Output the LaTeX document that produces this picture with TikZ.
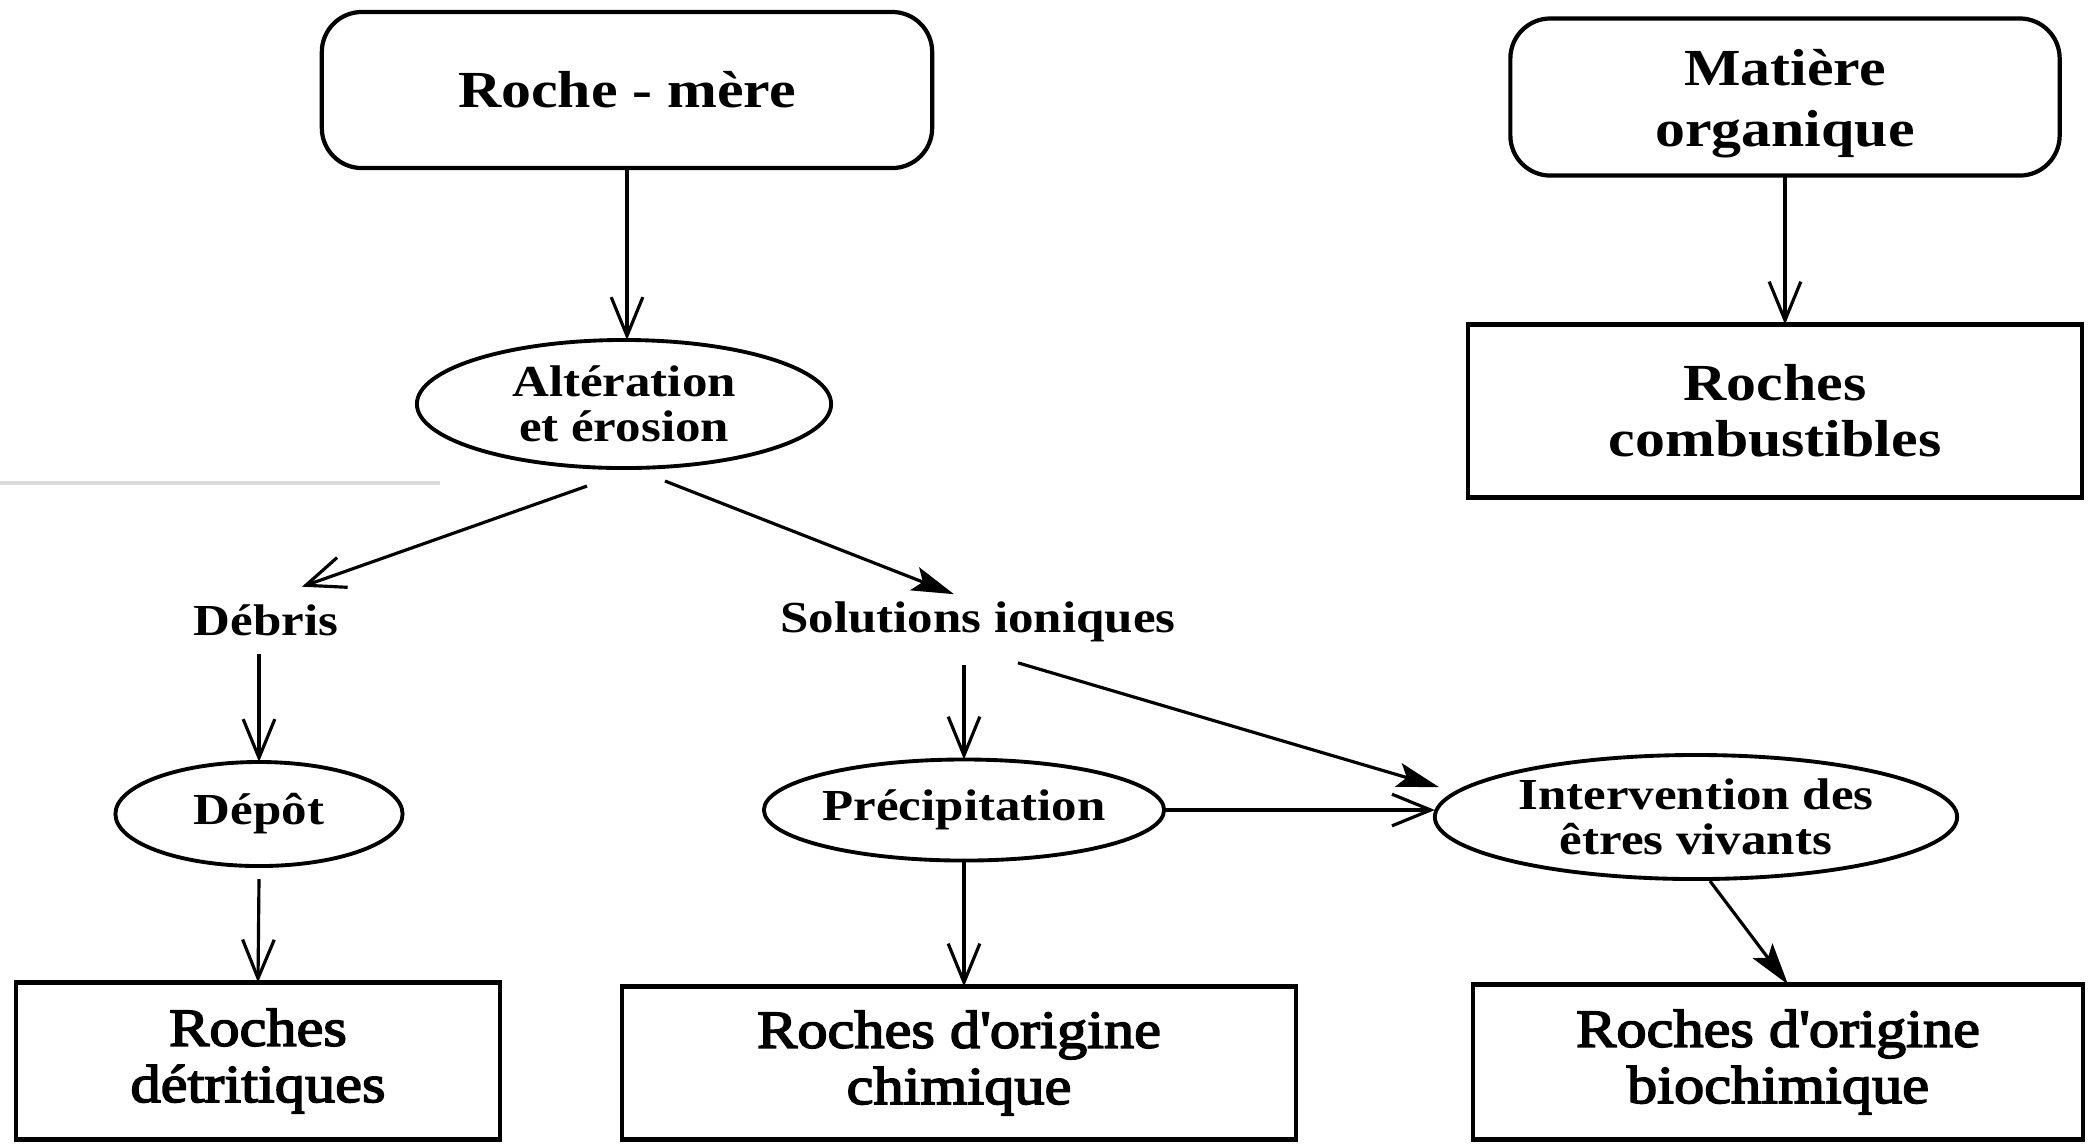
\documentclass[tikz,border=0pt]{standalone}
\usepackage{fontspec}
\setmainfont{Liberation Serif}[FakeStretch=1.15]
\newfontfamily\lowfont{Liberation Serif}[FakeStretch=1.13,FakeBold=3]
\usetikzlibrary{arrows.meta,shapes.geometric,calc}
\tikzset{
  bigtxt/.style={font=\fontsize{14.8}{16}\selectfont\bfseries, align=center},
  lowtxt/.style={font=\lowfont\fontsize{15.2}{16}\selectfont, align=center},
  smalltxt/.style={font=\fontsize{12.6}{12.8}\selectfont\bfseries, align=center},
  rbox/.style={draw, line width=1.2pt, rounded corners=0.4cm, inner sep=0pt, outer sep=0pt, bigtxt},
  sbox/.style={draw, line width=1.2pt, inner sep=0pt, outer sep=0pt, bigtxt},
  lbox/.style={sbox, lowtxt},
  oval/.style={draw, ellipse, line width=1.1pt, inner sep=0pt, outer sep=0pt, smalltxt},
  lbl/.style={smalltxt, inner sep=2pt},
  arrO/.style={line width=0.9pt, -{Straight Barb[length=11pt,width=9pt,line width=0.9pt]}},
  arrF/.style={line width=0.9pt, -{Stealth[length=12pt,width=7pt,inset=2.5pt]}},
}
\begin{document}
\begin{tikzpicture}[x=0.01cm,y=-0.01cm]
\fill[white] (0,0) rectangle (2088,1144);
\useasboundingbox (0,0) rectangle (2088,1144);
\draw[black!14, line width=1pt] (0,483) -- (440,483);

\node[rbox, minimum width=6.1cm, minimum height=1.56cm] (rm) at (627,90) {Roche - mère};
\node[rbox, minimum width=5.49cm, minimum height=1.57cm, font=\fontsize{14.8}{17.5}\selectfont\bfseries] (mat) at (1785,97) {\rule{0pt}{14pt}Matière\\organique};
\node[sbox, minimum width=6.14cm, minimum height=1.73cm] (com) at (1775,411) {Roches\\combustibles};
\node[oval, minimum width=4.14cm, minimum height=1.28cm] (alt) at (624,404) {Altération\\et érosion};
\node[lbl] (deb) at (266,620) {Débris};
\node[lbl] (sol) at (978,622) {Solutions ioniques};
\node[oval, minimum width=2.87cm, minimum height=1.04cm] (dep) at (259,814) {Dépôt};
\node[oval, minimum width=3.37cm, minimum height=1.01cm] (pre) at (964,810) {Précipitation};
\node[oval, minimum width=5.22cm, minimum height=1.24cm] (int) at (1696,817) {Intervention des\\êtres vivants};
\node[lbox, minimum width=4.84cm, minimum height=1.57cm] (det) at (258,1061) {Roches\\détritiques};
\node[lbox, minimum width=6.73cm, minimum height=1.53cm] (chi) at (959,1063) {Roches d\textquotesingle origine\\chimique};
\node[lbox, minimum width=6.09cm, minimum height=1.55cm] (bio) at (1778,1062) {Roches d\textquotesingle origine\\biochimique};

\draw[arrO] (rm.south) -- (rm.south |- alt.north);
\draw[arrO] ($(alt.south)+(-37,18)$) -- ($(deb.north)+(36,-10)$);
\draw[arrF] ($(alt.south)+(41,13)$) -- ($(sol.north)+(-24,0)$);
\draw[arrO] ($(deb.south -| dep.north)+(0,11)$) -- (dep.north);
\draw[arrO] ($(dep.south)+(0,13)$) -- (det.north);
\draw[arrO] ($(sol.south -| pre.north)+(0,15)$) -- (pre.north);
\draw[arrF] ($(sol.south)+(40,13)$) -- ($(int.west)+(4,-30)$);
\draw[arrO] (pre.east) -- (pre.east -| int.west);
\draw[arrO] (pre.south) -- (pre.south |- chi.north);
\draw[arrF] ($(int.south)+(14,2)$) -- ($(bio.north)+(10,0)$);
\draw[arrO] (mat.south) -- (mat.south |- com.north);
\end{tikzpicture}
\end{document}
